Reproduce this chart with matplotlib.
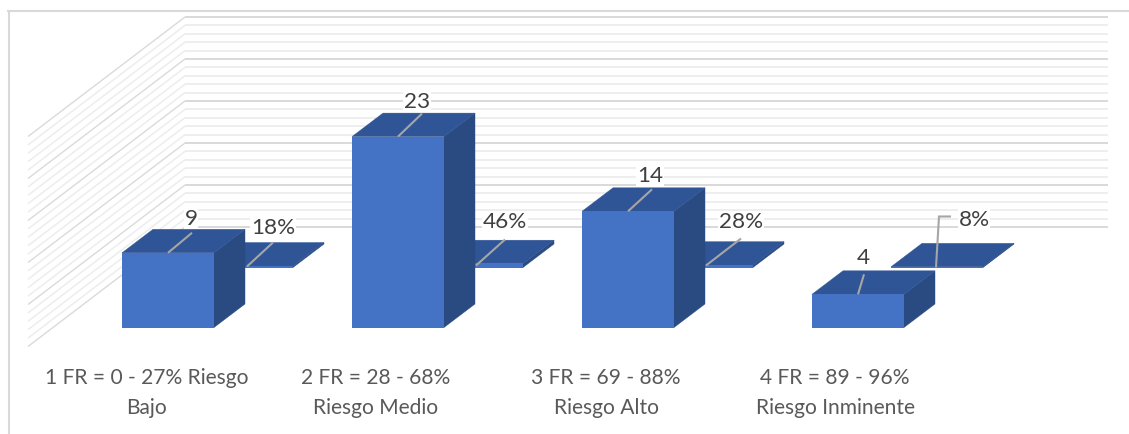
import matplotlib
matplotlib.use("Agg")
import matplotlib.pyplot as plt
from matplotlib.patches import Polygon
from matplotlib.lines import Line2D

categories = ["1 FR = 0 - 27% Riesgo\nBajo", "2 FR = 28 - 68%\nRiesgo Medio",
              "3 FR = 69 - 88%\nRiesgo Alto", "4 FR = 89 - 96%\nRiesgo Inminente"]
counts = [9, 23, 14, 4]
percents = [0.18, 0.46, 0.28, 0.08]
percent_labels = ["18%", "46%", "28%", "8%"]
y_ticks = list(range(0, 26))

W, H = 1129, 435
PX_CAT = 230.0      # pixels per category
PX_VAL = 8.3        # pixels per value unit
X0, Y0 = 168.0, 328.5  # pixel position of category 0 / value 0

plt.rcParams["font.family"] = ["Lato", "DejaVu Sans"]
fig = plt.figure(figsize=(W / 100, H / 100), dpi=100)
ax = fig.add_axes([0, 0, 1, 1])
ax.set_xlim(-X0 / PX_CAT, (W - X0) / PX_CAT)
ax.set_ylim(-(H - Y0) / PX_VAL, Y0 / PX_VAL)
ax.axis("off")

def dx(p): return p / PX_CAT
def dy(p): return p / PX_VAL

FRONT, TOP, SIDE = "#4472C4", "#2F5597", "#2A4A82"
BW, DX, DY = dx(92), dx(31), dy(23.5)

def box(x, base, h, z):
    """x = left of front face, base = value of the base, h = height"""
    y1 = base + h
    ax.add_patch(Polygon([(x + BW, base), (x + BW + DX, base + DY), (x + BW + DX, y1 + DY), (x + BW, y1)],
                         closed=True, fc=SIDE, ec=SIDE, lw=0.3, zorder=z))
    ax.add_patch(Polygon([(x, y1), (x + BW, y1), (x + BW + DX, y1 + DY), (x + DX, y1 + DY)],
                         closed=True, fc=TOP, ec=TOP, lw=0.3, zorder=z))
    ax.add_patch(Polygon([(x, base), (x + BW, base), (x + BW, y1), (x, y1)],
                         closed=True, fc=FRONT, ec="none", zorder=z + 0.1))

# walls: gridlines on side wall and back wall
WALL_X_BACK_L, WALL_X_R, WALL_X_FRONT = dx(185 - X0), dx(1108 - X0), dx(28 - X0)
BACK0 = dy(Y0 - 228)
SIDE_DROP = dy(119.5)
GRID_SCALE = 8.4 / PX_VAL
for t in y_ticks:
    y = BACK0 + t * GRID_SCALE
    major = t % 5 == 0
    ax.plot([WALL_X_BACK_L, WALL_X_R], [y, y], color="#CFCFCF" if major else "#EDEDED",
            lw=1.1 if major else 1.3, zorder=1, solid_capstyle="butt")
    ax.plot([WALL_X_FRONT, WALL_X_BACK_L], [y - SIDE_DROP, y], color="#DADADA" if major else "#EDEDED",
            lw=1.0 if major else 1.1, zorder=1, solid_capstyle="butt")

# series: percent series sits deeper and to the right
BACK_DX, BACK_BASE = dx(79), dy(60)
for i, p in enumerate(percents):
    box(i - BW / 2 + BACK_DX, BACK_BASE, p, 2 + i)
for i, c in enumerate(counts):
    box(i - BW / 2, 0, c, 2 + i + 0.5)

GRAY = "#A6A6A6"
def leader(pts):
    ax.plot([p[0] for p in pts], [p[1] for p in pts], color=GRAY, lw=1.5, zorder=20,
            solid_capstyle="butt", solid_joinstyle="miter")

def label(x, y, s):
    ax.text(x, y, s, ha="center", va="center", fontsize=16.2, color="#404040", zorder=21,
            bbox=dict(fc="white", ec="none", pad=0.6))

# leader lines and labels: pixel offsets from each bar's top-front centre
count_leader = [(24, 20), (24, 23), (24, 22), (6, 20)]
count_label = [(23, 35), (19, 36), (22, 36), (5, 37)]
for i, c in enumerate(counts):
    ox, oy = count_leader[i]
    leader([(i, c), (i + dx(ox), c + dy(oy))])
    lx, ly = count_label[i]
    label(i + dx(lx), c + dy(ly), str(c))

# percent leaders: pixel polylines relative to category centre and the flat bar's base
pct_leader = [[(79, 1), (105, 25)], [(78, 2), (107, 28)], [(78, 2), (113, 29)],
              [(78, 0), (81, 51), (93, 51)]]
pct_label = [(105, 101), (107, 106), (113, 106), (116, 108)]
for i, p in enumerate(percents):
    leader([(i + dx(a), BACK_BASE + dy(b)) for a, b in pct_leader[i]])
    lx, ly = pct_label[i]
    label(i + dx(lx), dy(ly), percent_labels[i])

cat_offset = [-21, -22, -22, -23]
for i, cat in enumerate(categories):
    ax.text(i + dx(cat_offset[i]), dy(Y0 - 393), cat, ha="center", va="center", fontsize=15.1,
            color="#595959", linespacing=1.6, zorder=21)

# chart border (top and left edges only)
border = "#D9D9D9"
fig.add_artist(Line2D([8 / W, 1], [1 - 11.5 / H] * 2, color=border, lw=1.5, transform=fig.transFigure))
fig.add_artist(Line2D([8.5 / W] * 2, [0, 1 - 11.5 / H], color=border, lw=1.5, transform=fig.transFigure))

fig.savefig("out.png", dpi=100, facecolor="white")
